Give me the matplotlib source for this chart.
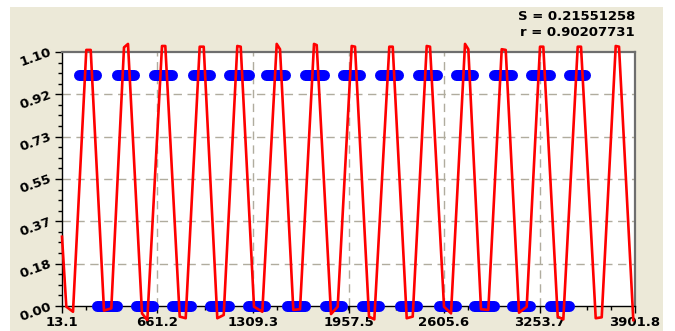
import matplotlib
matplotlib.use("Agg")
import matplotlib.pyplot as plt
from matplotlib.patches import Rectangle
from matplotlib.ticker import FixedLocator
import numpy as np

# ---- data ----
x_ticks = [13.1, 661.2, 1309.3, 1957.5, 2605.6, 3253.7, 3901.8]
x_tick_labels = ["13.1", "661.2", "1309.3", "1957.5", "2605.6", "3253.7", "3901.8"]
y_ticks = [0.0, 0.18333, 0.36667, 0.55, 0.73333, 0.91667, 1.1]
y_tick_labels = ["0.00", "0.18", "0.37", "0.55", "0.73", "0.92", "1.10"]

# observed points: runs of dense points at level 1 and level 0 (start, end)
top_runs_start = [125.1, 385.0, 634.1, 898.8, 1147.8, 1399.0, 1660.9, 1918.8,
                  2169.9, 2427.8, 2683.7, 2943.6, 3192.7, 3452.6]
top_runs_end = [242.5, 503.1, 763.0, 1018.9, 1278.8, 1527.9, 1787.8, 2034.2,
                2292.1, 2559.4, 2801.1, 3065.7, 3321.6, 3559.2]
bot_runs_start = [249.3, 516.7, 758.3, 1018.9, 1274.1, 1536.7, 1794.6, 2045.7,
                  2303.6, 2568.3, 2809.2, 3068.5, 3323.0]
bot_runs_end = [383.0, 627.3, 887.2, 1147.8, 1392.1, 1658.9, 1910.0, 2161.1,
                2423.7, 2683.7, 2941.6, 3191.3, 3450.6]
top_level = 1.0
bot_level = 0.0

# fitted curve vertices
fit_x = [13.1, 42.3, 87.8, 178.0, 207.9, 298.1, 347.7, 433.9, 461.0, 556.0,
         592.0, 691.8, 714.2, 811.9, 852.6, 947.6, 974.8, 1067.1, 1110.5, 1202.8,
         1225.9, 1316.2, 1372.5, 1470.2, 1492.7, 1582.9, 1628.4, 1723.4, 1741.7, 1838.7,
         1884.2, 1979.2, 2001.6, 2096.7, 2132.6, 2234.4, 2257.5, 2352.5, 2393.2, 2488.2,
         2510.7, 2605.7, 2653.2, 2748.2, 2770.6, 2856.8, 2906.3, 2997.3, 3024.4, 3114.7,
         3166.9, 3257.2, 3279.5, 3377.3, 3415.3, 3513.0, 3535.4, 3635.2, 3675.9, 3770.9,
         3793.3, 3890.3]
fit_y = [0.300, -0.003, -0.025, 1.109, 1.109, -0.020, -0.010, 1.120, 1.135, -0.032,
         -0.061, 1.126, 1.126, -0.046, -0.053, 1.123, 1.123, -0.053, -0.039, 1.126,
         1.123, -0.003, -0.025, 1.135, 1.112, -0.017, -0.014, 1.135, 1.130, -0.035,
         -0.003, 1.126, 1.123, -0.046, -0.058, 1.123, 1.123, -0.053, -0.046, 1.126,
         1.123, -0.003, -0.032, 1.135, 1.112, -0.014, -0.017, 1.112, 1.109, -0.029,
         -0.003, 1.123, 1.123, -0.046, -0.058, 1.123, 1.123, -0.053, -0.049, 1.126,
         1.123, -0.061]

stat_S = "S = 0.21551258"
stat_r = "r = 0.90207731"

# ---- figure ----
W, H, DPI = 675, 331, 100
fig = plt.figure(figsize=(W / DPI, H / DPI), dpi=DPI, facecolor="white")
bg = Rectangle((10 / W, 0), (663 - 10) / W, (331 - 7) / H,
               transform=fig.transFigure, facecolor="#ECE9D8",
               edgecolor="none", zorder=-10)
fig.add_artist(bg)

ax = fig.add_axes([62 / W, (H - 306) / H, (635 - 62) / W, (306 - 52) / H])
ax.set_zorder(1)
ax.set_facecolor("white")
ax.set_xlim(x_ticks[0], x_ticks[-1])
ax.set_ylim(0, 1.1)

grid_kw = dict(color="#B0AC9E", lw=1.0, ls=(0, (6, 4)), zorder=1)
for xv in x_ticks[1:-1]:
    ax.axvline(xv, **grid_kw)
for yv in y_ticks[1:-1]:
    ax.axhline(yv, **grid_kw)

cap_lw = 11 * 72 / DPI
for s, e in zip(top_runs_start, top_runs_end):
    ax.plot([s, e], [top_level, top_level], color="#0000FF", lw=cap_lw,
            solid_capstyle="round", zorder=3, clip_on=False)
for s, e in zip(bot_runs_start, bot_runs_end):
    ax.plot([s, e], [bot_level, bot_level], color="#0000FF", lw=cap_lw,
            solid_capstyle="round", zorder=3, clip_on=False)

ax.plot(fit_x, fit_y, color="#FF0000", lw=1.9, zorder=4, clip_on=False)

# spines
for sp in ["top", "right"]:
    ax.spines[sp].set_color("#6E6E6E")
    ax.spines[sp].set_linewidth(1.6)
for sp in ["left", "bottom"]:
    ax.spines[sp].set_color("black")
    ax.spines[sp].set_linewidth(1.0)

ax.xaxis.set_major_locator(FixedLocator(x_ticks))
ax.set_xticklabels(x_tick_labels)
step = (x_ticks[-1] - x_ticks[0]) / 6
ax.xaxis.set_minor_locator(FixedLocator([x_ticks[0] + step * i / 4 for i in range(25)]))
ax.yaxis.set_major_locator(FixedLocator(y_ticks))
ax.set_yticklabels(y_tick_labels)
ax.yaxis.set_minor_locator(FixedLocator([1.1 * i / 24 for i in range(25)]))

ax.tick_params(which="major", direction="out", length=5, width=1.0, color="black")
ax.tick_params(which="minor", direction="out", length=3, width=1.0, color="black")
ax.tick_params(axis="x", pad=2)
ax.tick_params(axis="y", pad=3)

for lab in ax.get_xticklabels():
    lab.set_fontfamily("DejaVu Sans")
    lab.set_fontweight("bold")
    lab.set_fontsize(9.5)
for lab in ax.get_yticklabels():
    lab.set_fontfamily("DejaVu Sans")
    lab.set_fontweight("bold")
    lab.set_fontsize(9.5)
    lab.set_rotation(20)
    lab.set_rotation_mode("anchor")
    lab.set_ha("right")
    lab.set_va("center")

fig.text(635 / W, (H - 17) / H, stat_S, ha="right", va="center",
         fontsize=9.5, fontweight="bold", family="DejaVu Sans")
fig.text(635 / W, (H - 32) / H, stat_r, ha="right", va="center",
         fontsize=9.5, fontweight="bold", family="DejaVu Sans")

fig.savefig("out.png", dpi=DPI, facecolor=fig.get_facecolor())
